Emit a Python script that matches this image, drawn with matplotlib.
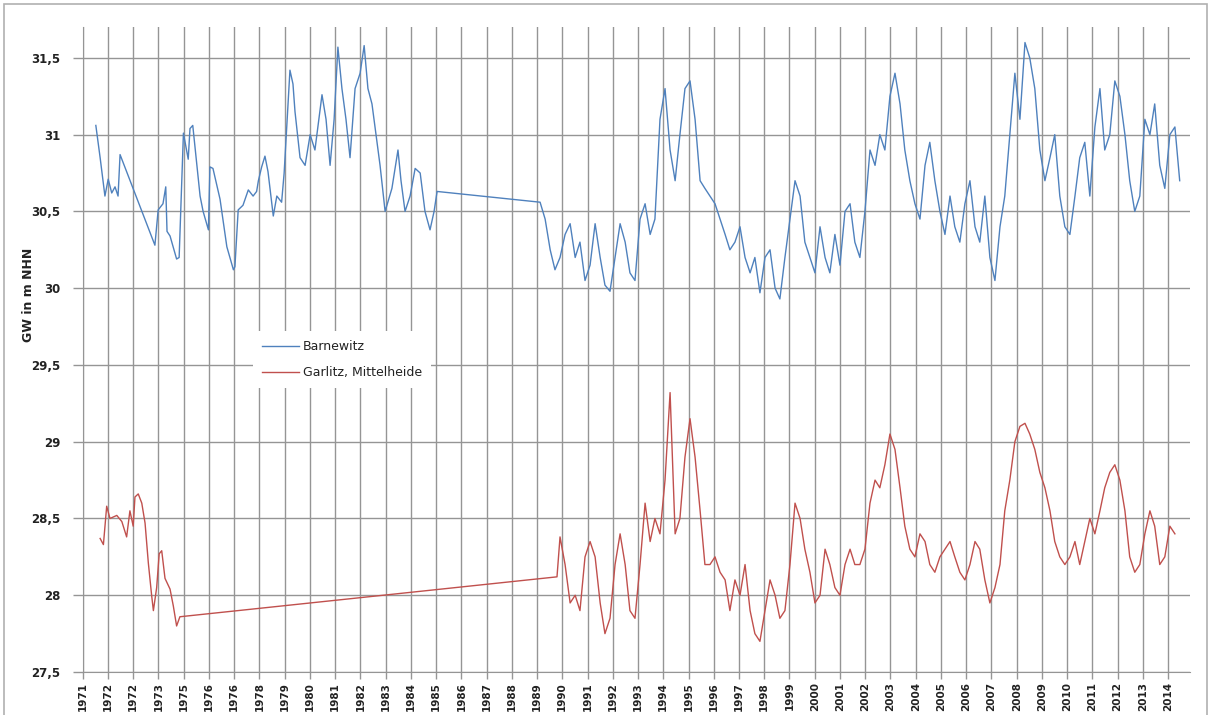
import matplotlib
matplotlib.use("Agg")
import matplotlib.pyplot as plt
from matplotlib.patches import Rectangle

# tick labels as printed on the original axis (one per year slot)
tick_labels = ["1971", "1972", "1972", "1973", "1975", "1976", "1976", "1978",
               "1979", "1980", "1981", "1982", "1983", "1984", "1985", "1986",
               "1987", "1988", "1989", "1990", "1991", "1992", "1993", "1994",
               "1995", "1996", "1997", "1998", "1999", "2000", "2001", "2002",
               "2003", "2004", "2005", "2006", "2007", "2008", "2009", "2010",
               "2011", "2012", "2013", "2014"]
tick_pos = [1971 + i for i in range(len(tick_labels))]

# Barnewitz, before the data gap
barn_t1 = [1971.52, 1971.69, 1971.88, 1972.01, 1972.15, 1972.28, 1972.40, 1972.48,
           1973.86, 1973.99, 1974.18, 1974.29, 1974.34, 1974.46, 1974.72, 1974.82,
           1974.99, 1975.18, 1975.25, 1975.36, 1975.65, 1975.77, 1975.98, 1976.04,
           1976.16, 1976.44, 1976.71, 1976.97, 1977.03, 1977.16, 1977.35, 1977.56,
           1977.75, 1977.89, 1977.96, 1978.09, 1978.22, 1978.34, 1978.55, 1978.69,
           1978.88, 1978.98, 1979.21, 1979.33, 1979.41, 1979.61, 1979.81, 1980.01,
           1980.20, 1980.48, 1980.64, 1980.80, 1980.96, 1981.11, 1981.27, 1981.43,
           1981.59, 1981.79, 1981.99, 1982.15, 1982.30, 1982.46, 1982.62, 1982.78,
           1982.98, 1983.25, 1983.49, 1983.61, 1983.77, 1983.97, 1984.17, 1984.37,
           1984.56, 1984.76, 1984.92, 1985.04]
barn_v1 = [31.06, 30.85, 30.60, 30.71, 30.62, 30.66, 30.60, 30.87,
           30.28, 30.51, 30.55, 30.66, 30.37, 30.34, 30.19, 30.20,
           31.01, 30.84, 31.04, 31.06, 30.60, 30.50, 30.38, 30.79,
           30.78, 30.58, 30.27, 30.12, 30.14, 30.51, 30.54, 30.64,
           30.60, 30.63, 30.70, 30.79, 30.86, 30.76, 30.47, 30.60,
           30.56, 30.75, 31.42, 31.33, 31.15, 30.85, 30.80, 31.00,
           30.90, 31.26, 31.10, 30.80, 31.10, 31.57, 31.30, 31.10,
           30.85, 31.30, 31.40, 31.58, 31.30, 31.20, 31.00, 30.80,
           30.50, 30.65, 30.90, 30.70, 30.50, 30.60, 30.78, 30.75,
           30.50, 30.38, 30.50, 30.63]

# common time grid after the gap
t2 = [1989.12, 1989.32, 1989.52, 1989.71, 1989.91, 1990.11, 1990.31, 1990.51, 1990.70, 1990.90,
      1991.10, 1991.30, 1991.50, 1991.69, 1991.89, 1992.09, 1992.29, 1992.49, 1992.68, 1992.88,
      1993.08, 1993.28, 1993.48, 1993.67, 1993.87, 1994.07, 1994.27, 1994.47, 1994.66, 1994.86,
      1995.06, 1995.26, 1995.46, 1995.65, 1995.85, 1996.05, 1996.25, 1996.45, 1996.64, 1996.84,
      1997.04, 1997.24, 1997.44, 1997.63, 1997.83, 1998.03, 1998.23, 1998.43, 1998.62, 1998.82,
      1999.02, 1999.22, 1999.42, 1999.61, 1999.81, 2000.01, 2000.21, 2000.41, 2000.60, 2000.80,
      2001.00, 2001.20, 2001.40, 2001.59, 2001.79, 2001.99, 2002.19, 2002.39, 2002.58, 2002.78,
      2002.98, 2003.18, 2003.38, 2003.57, 2003.77, 2003.97, 2004.17, 2004.37, 2004.56, 2004.76,
      2004.96, 2005.16, 2005.36, 2005.55, 2005.75, 2005.95, 2006.15, 2006.35, 2006.54, 2006.74,
      2006.94, 2007.14, 2007.34, 2007.53, 2007.73, 2007.93, 2008.13, 2008.33, 2008.52, 2008.72,
      2008.92, 2009.12, 2009.32, 2009.51, 2009.71, 2009.91, 2010.11, 2010.31, 2010.50, 2010.70,
      2010.90, 2011.10, 2011.30, 2011.49, 2011.69, 2011.89, 2012.09, 2012.29, 2012.48, 2012.68,
      2012.88, 2013.08, 2013.28, 2013.47, 2013.67, 2013.87, 2014.07, 2014.27, 2014.46]

barn_v2 = [30.56, 30.45, 30.25, 30.12, 30.20, 30.35, 30.42, 30.20, 30.30, 30.05,
           30.15, 30.42, 30.20, 30.02, 29.98, 30.20, 30.42, 30.30, 30.10, 30.05,
           30.45, 30.55, 30.35, 30.45, 31.10, 31.30, 30.90, 30.70, 31.00, 31.30,
           31.35, 31.10, 30.70, 30.65, 30.60, 30.55, 30.45, 30.35, 30.25, 30.30,
           30.40, 30.20, 30.10, 30.20, 29.97, 30.20, 30.25, 30.00, 29.93, 30.20,
           30.45, 30.70, 30.60, 30.30, 30.20, 30.10, 30.40, 30.20, 30.10, 30.35,
           30.15, 30.50, 30.55, 30.30, 30.20, 30.50, 30.90, 30.80, 31.00, 30.90,
           31.25, 31.40, 31.20, 30.90, 30.70, 30.55, 30.45, 30.80, 30.95, 30.70,
           30.50, 30.35, 30.60, 30.40, 30.30, 30.55, 30.70, 30.40, 30.30, 30.60,
           30.20, 30.05, 30.40, 30.60, 31.00, 31.40, 31.10, 31.60, 31.50, 31.30,
           30.90, 30.70, 30.85, 31.00, 30.60, 30.40, 30.35, 30.60, 30.85, 30.95,
           30.60, 31.05, 31.30, 30.90, 31.00, 31.35, 31.25, 31.00, 30.70, 30.50,
           30.60, 31.10, 31.00, 31.20, 30.80, 30.65, 31.00, 31.05, 30.70]

# Garlitz, Mittelheide, before the gap
garl_t1 = [1971.69, 1971.82, 1971.95, 1972.08, 1972.35, 1972.55, 1972.74, 1972.87,
           1973.00, 1973.07, 1973.20, 1973.34, 1973.47, 1973.60, 1973.73, 1973.80,
           1973.93, 1974.03, 1974.13, 1974.26, 1974.46, 1974.59, 1974.72, 1974.85,
           1989.79]
garl_v1 = [28.37, 28.33, 28.58, 28.50, 28.52, 28.48, 28.38, 28.55,
           28.45, 28.64, 28.66, 28.60, 28.47, 28.21, 28.00, 27.90,
           28.05, 28.27, 28.29, 28.11, 28.04, 27.93, 27.80, 27.86,
           28.12]

# Garlitz after the gap, on t2 from 1989.91 to 2014.27
garl_v2 = [28.38, 28.20, 27.95, 28.00, 27.90, 28.25, 28.35, 28.25, 27.95, 27.75,
           27.85, 28.20, 28.40, 28.20, 27.90, 27.85, 28.20, 28.60, 28.35, 28.50,
           28.40, 28.75, 29.32, 28.40, 28.50, 28.90, 29.15, 28.90, 28.55, 28.20,
           28.20, 28.25, 28.15, 28.10, 27.90, 28.10, 28.00, 28.20, 27.90, 27.75,
           27.70, 27.90, 28.10, 28.00, 27.85, 27.90, 28.20, 28.60, 28.50, 28.30,
           28.15, 27.95, 28.00, 28.30, 28.20, 28.05, 28.00, 28.20, 28.30, 28.20,
           28.20, 28.30, 28.60, 28.75, 28.70, 28.85, 29.05, 28.95, 28.70, 28.45,
           28.30, 28.25, 28.40, 28.35, 28.20, 28.15, 28.25, 28.30, 28.35, 28.25,
           28.15, 28.10, 28.20, 28.35, 28.30, 28.10, 27.95, 28.05, 28.20, 28.55,
           28.75, 29.00, 29.10, 29.12, 29.05, 28.95, 28.80, 28.70, 28.55, 28.35,
           28.25, 28.20, 28.25, 28.35, 28.20, 28.35, 28.50, 28.40, 28.55, 28.70,
           28.80, 28.85, 28.75, 28.55, 28.25, 28.15, 28.20, 28.40, 28.55, 28.45,
           28.20, 28.25, 28.45, 28.40]

barn_t = barn_t1 + t2
barn_v = barn_v1 + barn_v2
garl_t = garl_t1 + t2[4:4 + len(garl_v2)]
garl_v = garl_v1 + garl_v2

fig = plt.figure(figsize=(12.11, 7.15), dpi=100)
ax = fig.add_axes([0.0683, 0.0601, 0.9144, 0.9019])

ax.plot(barn_t, barn_v, color="#4f81bd", lw=1.0, label="Barnewitz")
ax.plot(garl_t, garl_v, color="#c0504d", lw=1.0, label="Garlitz, Mittelheide")

ax.set_xlim(1971, 2014.87)
ax.set_ylim(27.5, 31.7)
ax.set_yticks([27.5, 28, 28.5, 29, 29.5, 30, 30.5, 31, 31.5])
ax.set_yticklabels(["27,5", "28", "28,5", "29", "29,5", "30", "30,5", "31", "31,5"],
                   fontsize=8.5, fontweight="bold", color="#222222")
ax.set_xticks(tick_pos)
ax.set_xticklabels(tick_labels, rotation=90, fontsize=7.5, fontweight="bold", color="#222222")

ax.grid(True, color="#959595", lw=1.0)
ax.set_axisbelow(True)
for side in ["top", "right"]:
    ax.spines[side].set_visible(False)
for side in ["left", "bottom"]:
    ax.spines[side].set_color("#959595")
ax.tick_params(axis="y", color="#959595", length=7, width=1, pad=9)
ax.tick_params(axis="x", color="#959595", length=5, width=1, pad=2)

ax.set_ylabel("GW in m NHN", fontsize=9, fontweight="bold", color="#222222")
ax.yaxis.set_label_coords(-0.043, 0.585)

leg = ax.legend(loc="upper left", bbox_to_anchor=(0.148, 0.538), frameon=True,
                prop={"size": 9}, handlelength=3.0, handletextpad=0.3,
                borderpad=0.7, labelspacing=1.05)
leg.get_frame().set_facecolor("white")
leg.get_frame().set_edgecolor("none")
leg.get_frame().set_alpha(1)
for txt in leg.get_texts():
    txt.set_color("#222222")

fig.patches.append(Rectangle((0.003, -0.01), 0.994, 1.004, transform=fig.transFigure,
                             fill=False, edgecolor="#b0b0b0", lw=1.2))

fig.savefig("out.png", dpi=100)
